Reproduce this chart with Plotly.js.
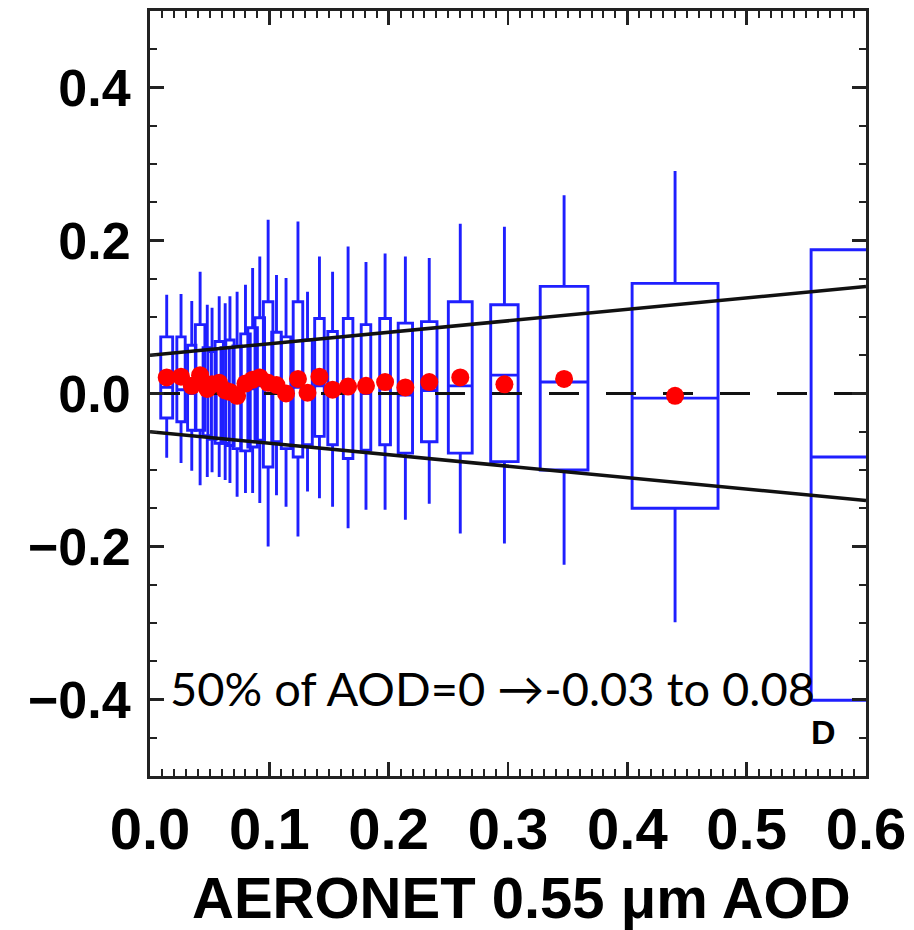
<!DOCTYPE html>
<html>
<head>
<meta charset="utf-8">
<script src="https://cdn.plot.ly/plotly-3.0.1.min.js"></script>
<style>html,body{margin:0;padding:0;background:#fff;}#chart{width:914px;height:930px;}</style>
</head>
<body>
<div id="chart"></div>
<script>
// AERONET 0.55 um AOD bin centres
const aod = [0.014,0.026,0.035,0.042,0.048,0.052,0.058,0.063,0.067,0.073,0.080,0.086,0.092,0.099,0.106,0.114,0.124,0.132,0.142,0.153,0.166,0.181,0.197,0.214,0.234,0.260,0.297,0.347,0.440,0.600];
// bin widths (AOD units)
const binWidth = [0.010,0.007,0.007,0.008,0.007,0.007,0.007,0.007,0.007,0.007,0.008,0.008,0.008,0.008,0.008,0.008,0.008,0.008,0.008,0.008,0.008,0.008,0.009,0.012,0.013,0.020,0.023,0.040,0.072,0.092];
// AOD error statistics per bin
const whiskerHigh = [0.129,0.130,0.121,0.159,0.116,0.112,0.127,0.118,0.127,0.133,0.142,0.164,0.179,0.227,0.155,0.151,0.225,0.133,0.179,0.159,0.192,0.172,0.183,0.179,0.177,0.222,0.218,0.259,0.291,0.188];
const q3 = [0.074,0.074,0.063,0.090,0.060,0.055,0.068,0.060,0.070,0.062,0.078,0.086,0.099,0.120,0.080,0.074,0.120,0.070,0.098,0.081,0.098,0.090,0.098,0.092,0.094,0.120,0.116,0.140,0.144,0.188];
const median = [0.008,0.005,0.000,0.010,0.000,0.004,0.003,0.000,-0.002,-0.005,0.004,0.006,0.010,0.005,0.002,-0.006,0.008,-0.008,0.010,-0.002,0.000,0.000,0.006,-0.002,0.004,0.010,0.024,0.015,-0.006,-0.083];
const q1 = [-0.032,-0.037,-0.048,-0.048,-0.055,-0.060,-0.065,-0.065,-0.068,-0.072,-0.075,-0.070,-0.061,-0.096,-0.063,-0.072,-0.083,-0.067,-0.056,-0.067,-0.085,-0.074,-0.067,-0.078,-0.063,-0.078,-0.089,-0.100,-0.150,-0.401];
const whiskerLow = [-0.084,-0.091,-0.101,-0.120,-0.109,-0.103,-0.109,-0.113,-0.117,-0.135,-0.130,-0.130,-0.143,-0.200,-0.133,-0.148,-0.187,-0.128,-0.137,-0.148,-0.176,-0.152,-0.152,-0.165,-0.144,-0.183,-0.196,-0.224,-0.299,-0.401];
const meanErr = [0.021,0.022,0.010,0.024,0.006,0.012,0.014,0.004,0.002,-0.003,0.013,0.018,0.021,0.014,0.011,0.000,0.019,0.001,0.022,0.005,0.009,0.010,0.015,0.008,0.015,0.021,0.012,0.019,-0.003,null];
// expected error envelope and zero line
const eeX = [0, 0.6];
const eeUpper = [0.05, 0.14];
const eeLower = [-0.05, -0.14];
const zeroY = [0, 0];
// tick labels
const xTicks = [0,0.1,0.2,0.3,0.4,0.5,0.6];
const xTickText = ['0.0','0.1','0.2','0.3','0.4','0.5','0.6'];
const yTicks = [-0.4,-0.2,0,0.2,0.4];
const yTickText = ['\u22120.4','\u22120.2','0.0','0.2','0.4'];

const BLUE = '#1f1fff';
const FRAME = '#222';
const traces = [];
for (let i = 0; i < aod.length; i++) {
  traces.push({
    type: 'box',
    x: [aod[i]],
    q1: [q1[i]], median: [median[i]], q3: [q3[i]],
    lowerfence: [whiskerLow[i]], upperfence: [whiskerHigh[i]],
    width: binWidth[i],
    whiskerwidth: 0,
    boxpoints: false,
    fillcolor: 'rgba(0,0,0,0)',
    line: {color: BLUE, width: 2.9},
    showlegend: false, hoverinfo: 'skip'
  });
}
traces.push({type:'scatter', mode:'lines', x: eeX, y: zeroY, line:{color:'#111', width:3, dash:'30px,27px'}, showlegend:false, hoverinfo:'skip'});
traces.push({type:'scatter', mode:'lines', x: eeX, y: eeUpper, line:{color:'#111', width:3.5}, showlegend:false, hoverinfo:'skip'});
traces.push({type:'scatter', mode:'lines', x: eeX, y: eeLower, line:{color:'#111', width:3.5}, showlegend:false, hoverinfo:'skip'});
traces.push({type:'scatter', mode:'markers', x: aod, y: meanErr, marker:{color:'#ff0000', size:18}, showlegend:false, hoverinfo:'skip'});
// transparent traces that host the top and right tick axes
traces.push({type:'scatter', mode:'markers', x: eeX, y: zeroY, xaxis:'x2', yaxis:'y', marker:{opacity:0, size:1}, showlegend:false, hoverinfo:'skip'});
traces.push({type:'scatter', mode:'markers', x: eeX, y: zeroY, xaxis:'x', yaxis:'y2', marker:{opacity:0, size:1}, showlegend:false, hoverinfo:'skip'});

const axisCommon = {
  showline: true, mirror: true, linecolor: FRAME, linewidth: 3,
  ticks: 'inside', tickcolor: FRAME, tickwidth: 2.5, ticklen: 14,
  showgrid: false, zeroline: false, fixedrange: true
};
const xMinor = {dtick: 0.01, tick0: 0, ticks: 'inside', ticklen: 7, tickwidth: 2, tickcolor: FRAME};
const yMinor = {dtick: 0.05, tick0: 0, ticks: 'inside', ticklen: 7, tickwidth: 2, tickcolor: FRAME};
const layout = {
  width: 914, height: 930,
  margin: {l: 150, r: 48, t: 11, b: 154},
  paper_bgcolor: '#fff', plot_bgcolor: '#fff',
  boxmode: 'overlay',
  showlegend: false,
  xaxis: Object.assign({}, axisCommon, {
    range: [0, 0.6],
    tickmode: 'array', tickvals: xTicks, ticktext: xTickText,
    tickfont: {family: 'Liberation Sans, Arial, sans-serif', size: 58, weight: 'bold', color: '#000'},
    ticklabelstandoff: 0,
    minor: xMinor
  }),
  yaxis: Object.assign({}, axisCommon, {
    range: [-0.5, 0.5],
    tickmode: 'array', tickvals: yTicks, ticktext: yTickText,
    tickfont: {family: 'Liberation Sans, Arial, sans-serif', size: 52, weight: 'bold', color: '#000'},
    ticklabelstandoff: 6,
    minor: yMinor
  }),
  xaxis2: Object.assign({}, axisCommon, {
    overlaying: 'x', side: 'top', anchor: 'y', range: [0, 0.6],
    tickmode: 'array', tickvals: xTicks, showticklabels: false, minor: xMinor
  }),
  yaxis2: Object.assign({}, axisCommon, {
    overlaying: 'y', side: 'right', anchor: 'x', range: [-0.5, 0.5],
    tickmode: 'array', tickvals: yTicks, showticklabels: false, minor: yMinor
  }),
  annotations: [
    {xref: 'paper', yref: 'paper', x: 0.5, y: 0, xshift: 13, yshift: -121, xanchor: 'center', yanchor: 'middle',
     text: 'AERONET 0.55 \u03bcm AOD', showarrow: false,
     font: {family: 'Liberation Sans, Arial, sans-serif', size: 58, weight: 'bold', color: '#000'}},
    {xref: 'x', yref: 'y', x: 0.015, y: -0.385, xanchor: 'left', yanchor: 'middle',
     text: '50% of AOD=0 \u2192-0.03 to 0.08', showarrow: false,
     font: {family: 'Lato, Noto Sans, sans-serif', size: 47, color: '#000'}},
    {xref: 'x', yref: 'y', x: 0.564, y: -0.4425, xanchor: 'center', yanchor: 'middle',
     text: 'D', showarrow: false,
     font: {family: 'Liberation Sans, Arial, sans-serif', size: 34, weight: 'bold', color: '#000'}}
  ]
};
Plotly.newPlot('chart', traces, layout, {displayModeBar: false, staticPlot: true});
</script>
</body>
</html>
